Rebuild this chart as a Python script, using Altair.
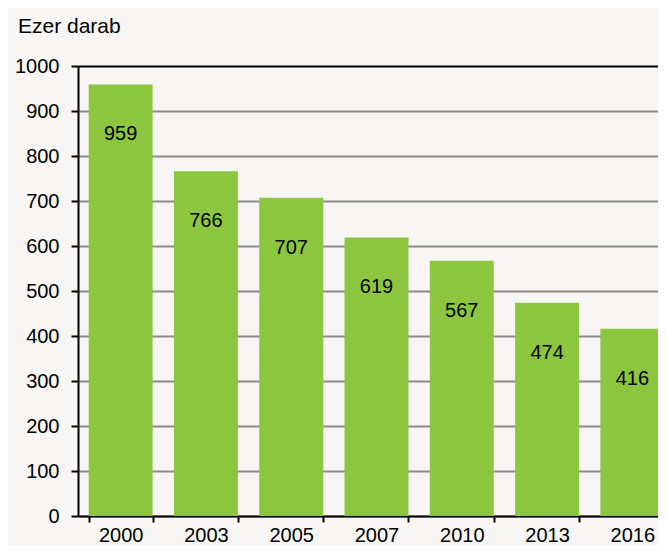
import altair as alt
import pandas as pd

years = ["2000", "2003", "2005", "2007", "2010", "2013", "2016"]
values = [959, 766, 707, 619, 567, 474, 416]
y_ticks = [0, 100, 200, 300, 400, 500, 600, 700, 800, 900, 1000]

df = pd.DataFrame({"year": years, "value": values})

FONT = "Liberation Sans"

x = alt.X(
    "year:N", sort=None, title=None,
    scale=alt.Scale(paddingInner=0.25, paddingOuter=0.125, rangeMax=597),
    axis=alt.Axis(labelAngle=0, labelFontSize=20, labelColor="black", labelFont=FONT,
                  domainColor="black", domainWidth=2, tickColor="black", tickWidth=2,
                  tickSize=6, tickBand="extent", labelPadding=3, grid=False),
)
y = alt.Y(
    "value:Q", title=None,
    scale=alt.Scale(domain=[0, 1000], nice=False),
    axis=alt.Axis(values=y_ticks, format="d", labelFontSize=20, labelColor="black",
                  labelFont=FONT, domainColor="black", domainWidth=2, tickColor="black",
                  tickWidth=2, tickSize=7, labelPadding=12, grid=True,
                  gridColor={"condition": {"test": "datum.value === 1000", "value": "#000000"},
                             "value": "#8a8a8a"},
                  gridWidth=2),
)

base = alt.Chart(df)
bars = base.mark_bar(color="#8cc63f", clip=True).encode(x=x, y=y)
labels = base.mark_text(dy=50, fontSize=20, font=FONT, color="black", baseline="middle",
                        clip=True).encode(x=x, y=y, text="value:Q")

chart = alt.layer(bars, labels).properties(
    width=580, height=450,
    autosize=alt.AutoSizeParams(type="none"),
    padding={"left": 70, "top": 58, "right": 0, "bottom": 30},
    title=alt.TitleParams("Ezer darab", anchor="start", frame="group", fontSize=21, font=FONT,
                          fontWeight="normal", color="black", dx=-60, offset=19),
).configure(background="#f7f6f4").configure_view(stroke=None)

chart.save("out.html", embed_options={"renderer": "svg", "actions": False})
